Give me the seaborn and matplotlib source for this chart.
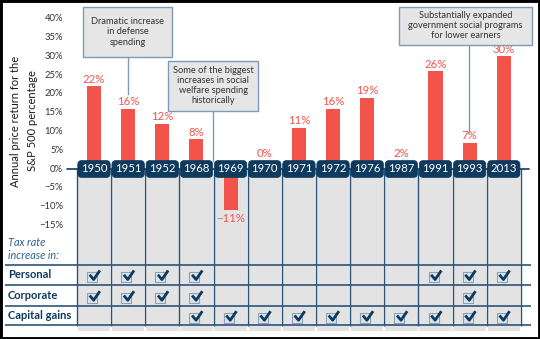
import matplotlib
matplotlib.use('Agg')
import matplotlib.pyplot as plt
import seaborn as sns
import pandas as pd
from matplotlib.patches import Rectangle
from matplotlib.path import Path

# ---------------- data ----------------
years = ['1950', '1951', '1952', '1968', '1969', '1970', '1971',
         '1972', '1976', '1987', '1991', '1993', '2013']
returns = [22, 16, 12, 8, -11, 0, 11, 16, 19, 2, 26, 7, 30]
tick_values = [40, 35, 30, 25, 20, 15, 10, 5, 0, -5, -10, -15]
row_labels = ['Personal', 'Corporate', 'Capital gains']
personal = ['1950', '1951', '1952', '1968', '1991', '1993', '2013']
corporate = ['1950', '1951', '1952', '1968', '1993']
capital_gains = ['1968', '1969', '1970', '1971', '1972', '1976',
                 '1987', '1991', '1993', '2013']
ylabel_lines = ['Annual price return for the', 'S&P 500 percentage']
note_texts = ['Dramatic increase\nin defense\nspending',
              'Some of the biggest\nincreases in social\nwelfare spending\nhistorically',
              'Substantially expanded\ngovernment social programs\nfor lower earners']
table_title = 'Tax rate\nincrease in:'

# ---------------- style ----------------
RED = '#f2544c'
NAVY = '#0e3a5d'
LINE = '#2c5478'
GRAY = '#e3e3e3'
BOX_FILL = '#e6e6e6'
BOX_EDGE = '#7d9bb6'

sns.set_theme(style='white')
plt.rcParams['font.family'] = ['Lato', 'DejaVu Sans']

fig = plt.figure(figsize=(5.4, 3.39), dpi=100)
ax = fig.add_axes([0, 0, 1, 1])

# pixel -> data helpers (layout only)
X0, XS = 94.0, 34.15
Y0, YS = 169.0, 18.8 / 5.0
def dx(px): return (px - X0) / XS
def dy(py): return (Y0 - py) / YS

n = len(years)
xs = list(range(n))

# gray columns & grid
ax.bar(xs, [dy(331)] * n, bottom=0, width=0.95, color=GRAY, zorder=0.3,
       linewidth=0)
ax.vlines([i - 0.5 for i in range(n + 1)], dy(325.5), 0, color=LINE, lw=1.0,
          zorder=0.6)
for py in [264.7, 285.3, 306.0, 325.3]:
    ax.plot([dx(5), dx(531)], [dy(py)] * 2, color=LINE, lw=1.2, zorder=0.7,
            solid_capstyle='butt')
ax.plot([dx(67), dx(529)], [0, 0], color=NAVY, lw=1.2, zorder=0.7)

# bars
df = pd.DataFrame({'year': years, 'ret': returns})
sns.barplot(data=df, x='year', y='ret', order=years, color=RED, width=0.41,
            saturation=1, ax=ax, zorder=2, linewidth=0)

# value labels
for i, v in enumerate(returns):
    lab = f'{v}%' if v >= 0 else f'\u2212{abs(v)}%'
    if v >= 0:
        ax.annotate(lab, (i, max(v, 2.4)), xytext=(0, 1), textcoords='offset points',
                    ha='center', va='bottom', color=RED, fontsize=8.2, zorder=3)
    else:
        ax.annotate(lab, (i, v), xytext=(0, -2), textcoords='offset points',
                    ha='center', va='top', color=RED, fontsize=8.2, zorder=3)

# year badges
for i, yr in enumerate(years):
    ax.text(i, 0, yr, ha='center', va='center', color='white', fontsize=8.2,
            zorder=5,
            bbox=dict(boxstyle='round,pad=0.26,rounding_size=0.35', fc=NAVY,
                      ec=NAVY, lw=0.5))

# y tick labels
for t in tick_values:
    ax.text(dx(63), t, f'{t}%' if t >= 0 else f'\u2212{abs(t)}%', ha='right',
            va='center', fontsize=6.8, color='#333333')

# y label
ax.text(dx(16), dy(121), ylabel_lines[0], rotation=90, ha='center',
        va='center', fontsize=8.0, color='#1a1a1a')
ax.text(dx(32), dy(121), ylabel_lines[1], rotation=90, ha='center',
        va='center', fontsize=8.0, color='#1a1a1a')

# table
ax.text(dx(8), dy(249), table_title, ha='left', va='center', fontsize=7.8,
        style='italic', color='#2d6391', linespacing=1.15)

check_marker = Path([(-0.45, 0.02), (-0.08, -0.42), (0.5, 0.42)],
                    [Path.MOVETO, Path.LINETO, Path.LINETO])
row_y = [275.0, 295.7, 315.7]
rows = [personal, corporate, capital_gains]
for lab, py, members in zip(row_labels, row_y, rows):
    ax.text(dx(8), dy(py), lab, ha='left', va='center', fontsize=8,
            fontweight='bold', color=NAVY)
    idx = [years.index(m) for m in members]
    ax.scatter([i - 2.0 / XS for i in idx], [dy(py + 2)] * len(idx), marker='s',
               s=46, facecolor='#dde3ea', edgecolor='#8ba2b7', linewidths=0.8,
               zorder=3)
    ax.scatter([i + 0.5 / XS for i in idx], [dy(py)] * len(idx),
               marker=check_marker, s=60, facecolor='none', edgecolor=NAVY,
               linewidths=2.0, zorder=4)

# annotation boxes
boxes = [(82.7, 6.7, 172.3, 57.3, 127.7, 94.3),
         (168.3, 60.7, 258.3, 111.0, 212.7, 161.0),
         (399.3, 6.7, 531.7, 45.0, 469.0, 131.7)]
for (x1, y1, x2, y2, lx, ly), txt in zip(boxes, note_texts):
    ax.plot([dx(lx), dx(lx)], [dy(y2), dy(ly)], color=BOX_EDGE, lw=1.0, zorder=4)
    ax.add_patch(Rectangle((dx(x1), dy(y2)), dx(x2) - dx(x1), dy(y1) - dy(y2),
                           fc=BOX_FILL, ec=BOX_EDGE, lw=1.0, zorder=6))
    ax.text(dx((x1 + x2) / 2), dy((y1 + y2) / 2), txt, ha='center', va='center',
            fontsize=6.7, color='#333333', linespacing=1.15, zorder=7)

ax.set_xlim(dx(0), dx(540))
ax.set_ylim(dy(339), dy(0))
ax.axis('off')

fig.patches.append(Rectangle((0, 0), 1, 1, transform=fig.transFigure,
                             fill=False, ec='black', lw=3.5))

fig.savefig('out.png', dpi=100)
